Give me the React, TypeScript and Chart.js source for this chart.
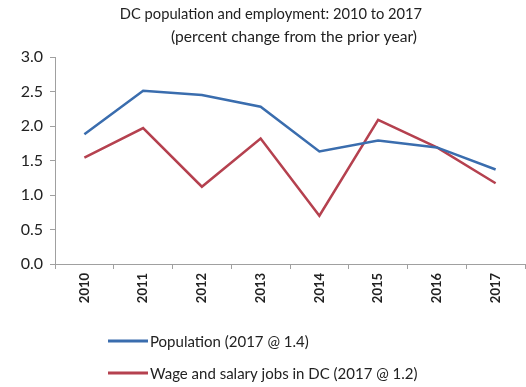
import React, { useEffect, useRef } from "react";
import { Chart, registerables } from "chart.js";

Chart.register(...registerables);

const years = ["2010", "2011", "2012", "2013", "2014", "2015", "2016", "2017"];
const population = [1.88, 2.51, 2.45, 2.28, 1.63, 1.79, 1.69, 1.37];
const jobs = [1.54, 1.97, 1.12, 1.82, 0.7, 2.09, 1.69, 1.17];
const titleLines = [
  "DC population and employment: 2010 to 2017",
  "(percent change from the prior year)",
];
const seriesLabels = [
  "Population (2017 @ 1.4)",
  "Wage and salary jobs in DC (2017 @ 1.2)",
];
const yMin = 0;
const yMax = 3;
const yStep = 0.5;

const FONT = "Lato, 'Open Sans', 'Liberation Sans', sans-serif";
const BLUE = "#3A6DAE";
const RED = "#B5414F";

const titlePlugin = {
  id: "twoLineTitle",
  afterDraw(chart: any) {
    const ctx = chart.ctx;
    const specs = [
      { x: 271, y: 14, size: 14.7 },
      { x: 294, y: 37, size: 15.6 },
    ];
    ctx.save();
    ctx.fillStyle = "#222";
    ctx.textAlign = "center";
    ctx.textBaseline = "middle";
    titleLines.forEach((t, i) => {
      ctx.font = `${specs[i].size}px ${FONT}`;
      ctx.fillText(t, specs[i].x, specs[i].y);
    });
    ctx.restore();
  },
};

const legendPlugin = {
  id: "verticalLegend",
  afterDraw(chart: any) {
    const ctx = chart.ctx;
    chart.data.datasets.forEach((ds: any, i: number) => {
      const y = 341 + i * 32;
      ctx.save();
      ctx.strokeStyle = ds.borderColor;
      ctx.lineWidth = 3;
      ctx.beginPath();
      ctx.moveTo(108, y);
      ctx.lineTo(148, y);
      ctx.stroke();
      ctx.fillStyle = "#222";
      ctx.font = `15px ${FONT}`;
      ctx.textBaseline = "middle";
      ctx.fillText(ds.label, 150, y + 1);
      ctx.restore();
    });
  },
};

export default function App() {
  const ref = useRef<HTMLCanvasElement | null>(null);

  useEffect(() => {
    document.body.style.margin = "0";
    if (!ref.current) return;
    const chart = new Chart(ref.current, {
      type: "line",
      data: {
        labels: years,
        datasets: [
          {
            label: seriesLabels[0],
            data: population,
            borderColor: BLUE,
            backgroundColor: BLUE,
            borderWidth: 2.5,
            pointRadius: 0,
            tension: 0,
          },
          {
            label: seriesLabels[1],
            data: jobs,
            borderColor: RED,
            backgroundColor: RED,
            borderWidth: 2.5,
            pointRadius: 0,
            tension: 0,
          },
        ],
      },
      options: {
        responsive: false,
        animation: false,
        layout: { padding: { top: 57, left: 0, right: 1, bottom: 75 } },
        plugins: {
          legend: { display: false },
          tooltip: { enabled: false },
          title: { display: false },
        },
        scales: {
          x: {
            type: "category",
            offset: true,
            grid: {
              display: true,
              drawOnChartArea: false,
              offset: true,
              tickLength: 5,
              color: "#A0A0A0",
            },
            border: { display: true, color: "#A0A0A0" },
            ticks: {
              minRotation: 90,
              maxRotation: 90,
              color: "#222",
              padding: 4,
              font: { family: FONT, size: 13, weight: "bold" },
            },
            afterFit: (s: any) => {
              s.height = 48;
            },
          },
          y: {
            min: yMin,
            max: yMax,
            ticks: {
              stepSize: yStep,
              color: "#222",
              padding: 7,
              font: { family: FONT, size: 16 },
              callback: (v: any) => Number(v).toFixed(1),
            },
            grid: {
              display: true,
              drawOnChartArea: false,
              tickLength: 5,
              color: "#A0A0A0",
            },
            border: { display: true, color: "#A0A0A0" },
            afterFit: (s: any) => {
              s.width = 55;
            },
          },
        },
      },
      plugins: [titlePlugin, legendPlugin],
    });
    return () => chart.destroy();
  }, []);

  return (
    <div style={{ width: 526, height: 387, background: "#fff" }}>
      <canvas ref={ref} width={526} height={387} style={{ display: "block" }} />
    </div>
  );
}
